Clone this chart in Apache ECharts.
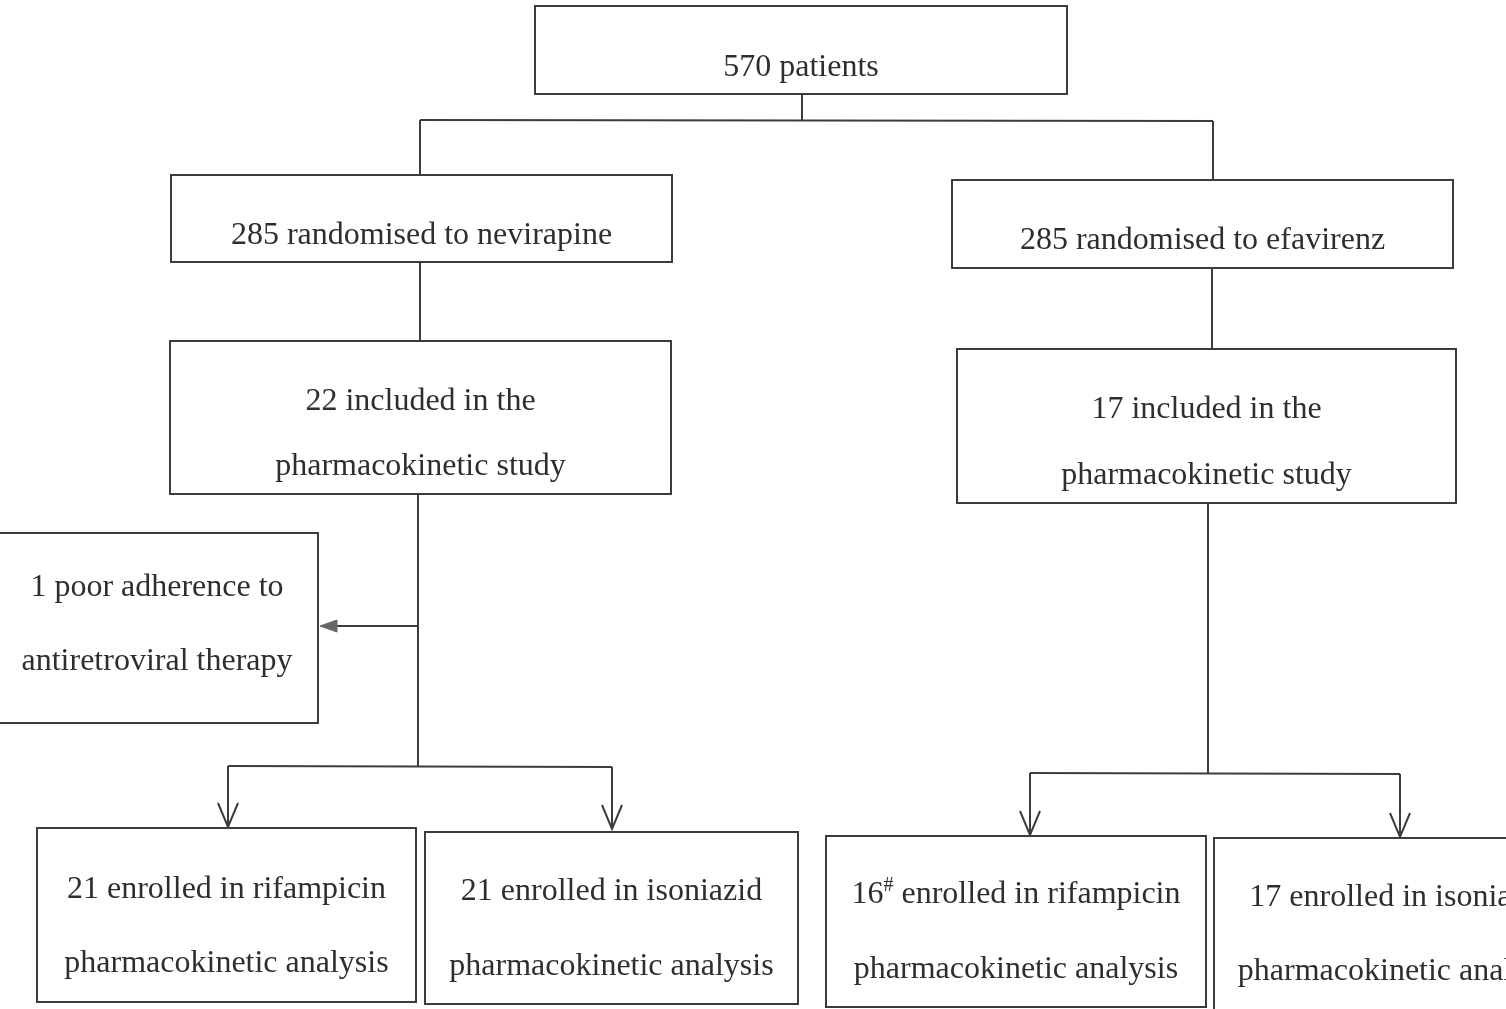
<!DOCTYPE html>
<html><head><meta charset="utf-8">
<script src="https://cdn.jsdelivr.net/npm/echarts@6/dist/echarts.min.js"></script>
<style>html,body{margin:0;padding:0;background:#fff}#c{width:1506px;height:1009px}</style>
</head><body><div id="c"></div>
<script>
// Box labels (text content)
const boxLabels = [
  ['570 patients'],
  ['285 randomised to nevirapine'],
  ['285 randomised to efavirenz'],
  ['22 included in the', 'pharmacokinetic study'],
  ['17 included in the', 'pharmacokinetic study'],
  ['1 poor adherence to', 'antiretroviral therapy'],
  ['21 enrolled in rifampicin', 'pharmacokinetic analysis'],
  ['21 enrolled in isoniazid', 'pharmacokinetic analysis'],
  ['{n|16}{s|#}{n| enrolled in rifampicin}', 'pharmacokinetic analysis'],
  ['17 enrolled in isoniazid', 'pharmacokinetic analysis']
];
// Box extents in diagram units [x0, y0, x1, y1]
const boxRects = [
  [535, 6, 1067, 94],
  [171, 175, 672, 262],
  [952, 180, 1453, 268],
  [170, 341, 671, 494],
  [957, 349, 1456, 503],
  [-4, 533, 318, 723],
  [37, 828, 416, 1002],
  [425, 832, 798, 1004],
  [826, 836, 1206, 1007],
  [1214, 838, 1586, 1014]
];
// Text rows for each box line (diagram units)
const boxTextRows = [
  [65], [233], [238], [399, 464], [407, 473], [585, 659],
  [887, 961], [889, 964], [892, 967], [895, 969]
];
// Connector polylines
const connectors = [
  [[802, 94], [802, 120]],
  [[420, 120], [1213, 121]],
  [[420, 120], [420, 175]],
  [[1213, 121], [1213, 180]],
  [[420, 262], [420, 341]],
  [[1212, 268], [1212, 349]],
  [[418, 494], [418, 766]],
  [[418, 626], [330, 626]],
  [[228, 766], [612, 767]],
  [[228, 766], [228, 827]],
  [[612, 767], [612, 829]],
  [[1208, 503], [1208, 773]],
  [[1030, 773], [1400, 774]],
  [[1030, 773], [1030, 835]],
  [[1400, 774], [1400, 837]]
];
// Open down-arrow heads (tip points)
const downArrowTips = [[228, 827], [612, 829], [1030, 835], [1400, 837]];
// Filled left-arrow heads (tip points)
const leftArrowTips = [[320, 626]];

const FONT = '"Liberation Serif", "Times New Roman", serif';
const FS = 32;
const TXT = '#2e2e2e';
const LINE = '#3c3c3c';

const chart = echarts.init(document.getElementById('c'), null, {renderer: 'canvas'});
chart.setOption({
  animation: false,
  backgroundColor: '#fff',
  grid: {left: 0, right: 0, top: 0, bottom: 0},
  xAxis: {type: 'value', min: 0, max: 1506, show: false},
  yAxis: {type: 'value', min: 0, max: 1009, inverse: true, show: false},
  series: [
    {
      type: 'custom',
      coordinateSystem: 'cartesian2d',
      data: connectors.map((c, i) => [i]),
      renderItem: function (params, api) {
        const pts = connectors[params.dataIndex].map(p => api.coord(p));
        return {type: 'polyline', shape: {points: pts}, style: {stroke: LINE, lineWidth: 2, fill: null}};
      }
    },
    {
      type: 'custom',
      coordinateSystem: 'cartesian2d',
      data: downArrowTips.map((t, i) => [i]),
      renderItem: function (params, api) {
        const t = downArrowTips[params.dataIndex];
        const pts = [api.coord([t[0] - 10, t[1] - 24]), api.coord(t), api.coord([t[0] + 10, t[1] - 24])];
        return {type: 'polyline', shape: {points: pts}, style: {stroke: LINE, lineWidth: 2, fill: null}};
      }
    },
    {
      type: 'custom',
      coordinateSystem: 'cartesian2d',
      data: leftArrowTips.map((t, i) => [i]),
      renderItem: function (params, api) {
        const t = leftArrowTips[params.dataIndex];
        const pts = [api.coord(t), api.coord([t[0] + 17, t[1] - 6]), api.coord([t[0] + 17, t[1] + 6])];
        return {type: 'polygon', shape: {points: pts}, style: {fill: '#666', stroke: '#666', lineWidth: 1}};
      }
    },
    {
      type: 'custom',
      coordinateSystem: 'cartesian2d',
      data: boxLabels.map((b, i) => [i]),
      renderItem: function (params, api) {
        const i = params.dataIndex;
        const r = boxRects[i];
        const p0 = api.coord([r[0], r[1]]);
        const p1 = api.coord([r[2], r[3]]);
        const cx = (p0[0] + p1[0]) / 2;
        const children = [{
          type: 'rect',
          shape: {x: p0[0], y: p0[1], width: p1[0] - p0[0], height: p1[1] - p0[1]},
          style: {fill: '#fff', stroke: LINE, lineWidth: 2}
        }];
        boxLabels[i].forEach((txt, k) => {
          const y = api.coord([0, boxTextRows[i][k]])[1] + 3;
          children.push({
            type: 'text',
            x: cx, y: y,
            style: {
              text: txt,
              font: FS + 'px ' + FONT,
              fill: TXT,
              align: 'center',
              verticalAlign: 'middle',
              rich: {
                n: {fontSize: FS, fontFamily: FONT, color: TXT},
                s: {fontSize: 20, fontFamily: FONT, color: TXT, padding: [0, 0, 18, 0]}
              }
            }
          });
        });
        return {type: 'group', children: children};
      }
    }
  ]
});
</script>
</body></html>
